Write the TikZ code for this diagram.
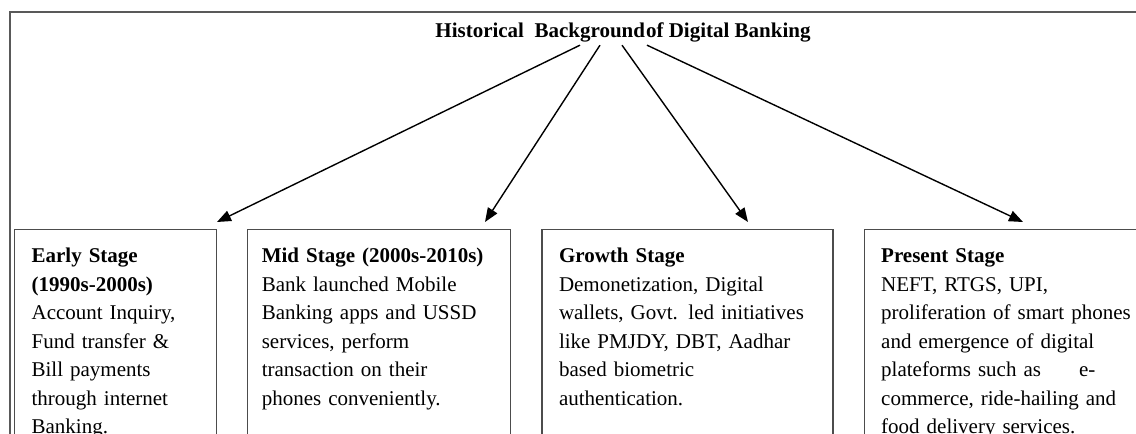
\documentclass[tikz,border=0pt]{standalone}
\usepackage{fontspec}
\setmainfont{Liberation Serif}
\usetikzlibrary{arrows.meta,positioning}

\begin{document}
\begin{tikzpicture}[
    x=1pt, y=-1pt,
    node distance=30pt,
    stage/.style={draw=black!70, line width=1.2pt, align=left,
        inner xsep=17pt, inner ysep=18pt, text height=15pt, text depth=240pt,
        font=\fontsize{21}{28.5}\selectfont},
    arr/.style={-{Triangle[length=14pt,width=11pt]}, line width=1.4pt}
    ]
    \useasboundingbox (0,0) rectangle (1136,434);
    \clip (0,0) rectangle (1136,434);
    \draw[black!65, line width=1.5pt] (10,470) |- (1150,12);
    \node[font=\fontsize{21}{24}\selectfont\bfseries, anchor=base] (title) at (623,37)
        {Historical\ \ Background\hspace{1pt}of Digital Banking};
    \node[stage, text width=168pt, anchor=north west] (early) at (14,229)
        {\textbf{Early Stage}\\\textbf{(1990s-2000s)}\\Account Inquiry,\\Fund transfer \&\\Bill payments\\through internet\\Banking.};
    \node[stage, text width=235pt, inner xsep=14pt, right=of early.north east, anchor=north west] (mid)
        {\textbf{Mid Stage (2000s-2010s)}\\Bank launched Mobile\\Banking apps and USSD\\services, perform\\transaction on their\\phones conveniently.};
    \node[stage, text width=257pt, right=of mid.north east, anchor=north west] (growth)
        {\textbf{Growth Stage}\\Demonetization, Digital\\wallets, Govt. led initiatives\\like PMJDY, DBT, Aadhar\\based biometric\\authentication.};
    \node[stage, text width=270pt, right=of growth.north east, anchor=north west] (present)
        {\textbf{Present Stage}\\NEFT, RTGS, UPI,\\proliferation of smart phones\\and emergence of digital\\plateforms such as\hspace{38pt}e-\\commerce, ride-hailing and\\food delivery services.};
    \coordinate (earlyTip)   at (217,222);
    \coordinate (midTip)     at (485,222);
    \coordinate (growthTip)  at (748,222);
    \coordinate (presentTip) at (1023,222);
    \draw[arr] ([xshift=-43pt]title.south) -- (earlyTip);
    \draw[arr] ([xshift=-23pt]title.south) -- (midTip);
    \draw[arr] ([xshift=-1pt]title.south)  -- (growthTip);
    \draw[arr] ([xshift=24pt]title.south)  -- (presentTip);
\end{tikzpicture}
\end{document}
